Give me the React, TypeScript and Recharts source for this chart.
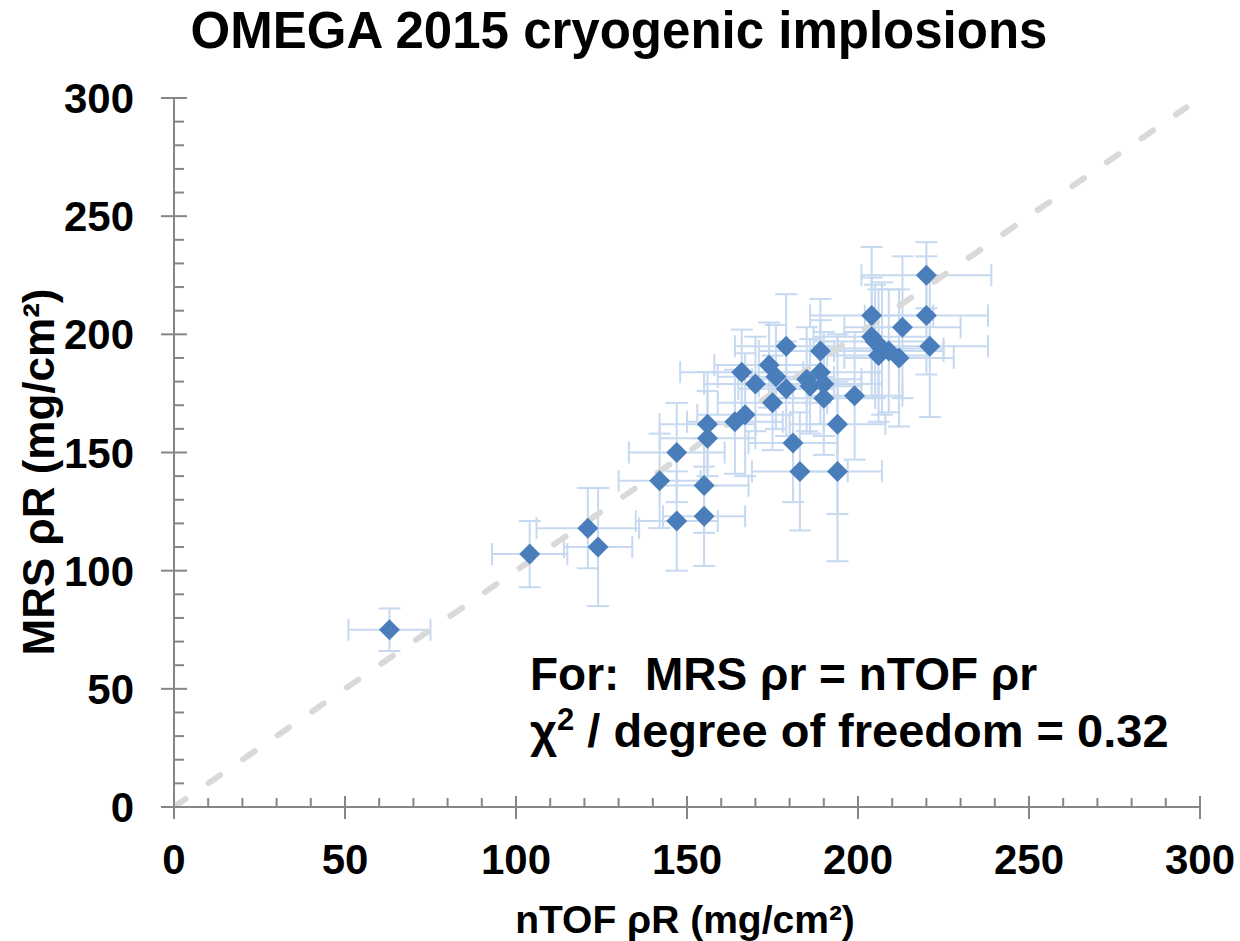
import React from "react";
import { ScatterChart, Scatter, XAxis, YAxis, ErrorBar } from "recharts";

// shot-by-shot areal density, nTOF vs MRS (mg/cm^2)
const NTOF_RHOR = [63, 104, 121, 124, 142, 147, 147, 155, 155, 156, 156, 164, 166, 167, 170, 174, 175, 176, 179, 179, 181, 183, 185, 186, 189, 189, 190, 190, 194, 194, 199, 204, 204, 205, 206, 207, 209, 212, 213, 220, 220, 221];
const MRS_RHOR = [75, 107, 118, 110, 138, 150, 121, 136, 123, 162, 156, 163, 184, 166, 179, 187, 171, 182, 195, 177, 154, 142, 181, 178, 184, 193, 179, 173, 162, 142, 174, 208, 199, 197, 191, 194, 193, 190, 203, 225, 208, 195];
const NTOF_ERR = [12, 11, 15, 10, 12, 14, 12, 13, 12, 14, 14, 14, 18, 14, 15, 16, 16, 17, 15, 14, 13, 14, 16, 15, 18, 18, 16, 15, 14, 13, 14, 18, 17, 16, 15, 18, 16, 16, 17, 19, 18, 17];
const MRS_ERR = [9, 14, 17, 25, 20, 21, 21, 20, 21, 22, 20, 22, 18, 26, 20, 18, 20, 22, 22, 20, 25, 25, 22, 20, 22, 22, 22, 24, 38, 38, 27, 29, 25, 24, 28, 28, 26, 29, 30, 14, 25, 30];

// y = x reference line end points
const EQUALITY = [0, 296];

const AXIS_TICKS = [0, 10, 20, 30, 40, 50, 60, 70, 80, 90, 100, 110, 120, 130, 140, 150, 160, 170, 180, 190, 200, 210, 220, 230, 240, 250, 260, 270, 280, 290, 300];

const points = NTOF_RHOR.map((x, i) => ({ x, y: MRS_RHOR[i], xe: NTOF_ERR[i], ye: MRS_ERR[i] }));
const equalityLine = EQUALITY.map((v) => ({ x: v, y: v }));

const FONT = "'Liberation Sans', Arial, sans-serif";
const AXIS_GRAY = "#868686";
const MARKER = "#4a7ebb";
const ERR = "#c6d9f0";

const W = 1240;
const H = 941;

const XTick = (props: any) => {
  const { x, y, payload } = props;
  const major = payload.value % 50 === 0;
  return (
    <g>
      <line x1={x} x2={x} y1={major ? y - 11 : y - 9} y2={major ? y + 12 : y} stroke={AXIS_GRAY} strokeWidth={2} />
      {major && (
        <text x={x} y={y + 67} textAnchor="middle" fontFamily={FONT} fontWeight="bold" fontSize={42} fill="#000">
          {payload.value}
        </text>
      )}
    </g>
  );
};

const YTick = (props: any) => {
  const { x, y, payload } = props;
  const major = payload.value % 50 === 0;
  return (
    <g>
      <line x1={major ? x - 13 : x} x2={major ? x + 13 : x + 10} y1={y} y2={y} stroke={AXIS_GRAY} strokeWidth={2} />
      {major && (
        <text x={x - 40} y={y + 15} textAnchor="end" fontFamily={FONT} fontWeight="bold" fontSize={42} fill="#000">
          {payload.value}
        </text>
      )}
    </g>
  );
};

const Diamond = (props: any) => {
  const { cx, cy } = props;
  const r = 10.5;
  return <polygon points={`${cx},${cy - r} ${cx + r},${cy} ${cx},${cy + r} ${cx - r},${cy}`} fill={MARKER} />;
};

const Nothing = () => <g />;

export default function App() {
  return (
    <div style={{ position: "absolute", left: 0, top: 0, width: W, height: H, background: "#fff" }}>
      <ScatterChart width={W} height={H} margin={{ top: 98, right: 40, left: 0, bottom: 0 }}>
        <XAxis
          type="number"
          dataKey="x"
          domain={[0, 300]}
          ticks={AXIS_TICKS}
          interval={0}
          height={134}
          tickLine={false}
          tickSize={0}
          tickMargin={0}
          tick={<XTick />}
          axisLine={{ stroke: AXIS_GRAY, strokeWidth: 2 }}
          allowDataOverflow
        />
        <YAxis
          type="number"
          dataKey="y"
          domain={[0, 300]}
          ticks={AXIS_TICKS}
          interval={0}
          width={174}
          tickLine={false}
          tickSize={0}
          tickMargin={0}
          tick={<YTick />}
          axisLine={{ stroke: AXIS_GRAY, strokeWidth: 2 }}
          allowDataOverflow
        />
        {/* error bars first so the dashed line and markers sit on top */}
        <Scatter data={points} shape={<Nothing />} isAnimationActive={false}>
          <ErrorBar dataKey="xe" direction="x" width={11} stroke={ERR} strokeWidth={2} isAnimationActive={false} />
          <ErrorBar dataKey="ye" direction="y" width={11} stroke={ERR} strokeWidth={2} isAnimationActive={false} />
        </Scatter>
        <Scatter
          data={equalityLine}
          shape={<Nothing />}
          line={{ stroke: "#d9d9d9", strokeWidth: 6, strokeDasharray: "14 28", strokeLinecap: "round" }}
          isAnimationActive={false}
        />
        <Scatter data={points} shape={<Diamond />} isAnimationActive={false} />
      </ScatterChart>

      <svg width={W} height={H} style={{ position: "absolute", left: 0, top: 0, pointerEvents: "none" }}>
        <text x={619} y={48} textAnchor="middle" fontFamily={FONT} fontWeight="bold" fontSize={51} fill="#000">
          OMEGA 2015 cryogenic implosions
        </text>
        <text x={685} y={933} textAnchor="middle" fontFamily={FONT} fontWeight="bold" fontSize={39} fill="#000">
          nTOF ρR (mg/cm²)
        </text>
        <text
          x={54}
          y={472}
          transform="rotate(-90 54 472)"
          textAnchor="middle"
          fontFamily={FONT}
          fontWeight="bold"
          fontSize={44}
          fill="#000"
        >
          MRS ρR (mg/cm²)
        </text>
        <text x={530} y={690} fontFamily={FONT} fontWeight="bold" fontSize={46} fill="#000">
          For:{"\u00a0"} MRS ρr = nTOF ρr
        </text>
        <text x={530} y={747} fontFamily={FONT} fontWeight="bold" fontSize={47} fill="#000">
          χ
          <tspan fontSize={31} dy={-17}>
            2
          </tspan>
          <tspan dy={17}> / degree of freedom = 0.32</tspan>
        </text>
      </svg>
    </div>
  );
}
